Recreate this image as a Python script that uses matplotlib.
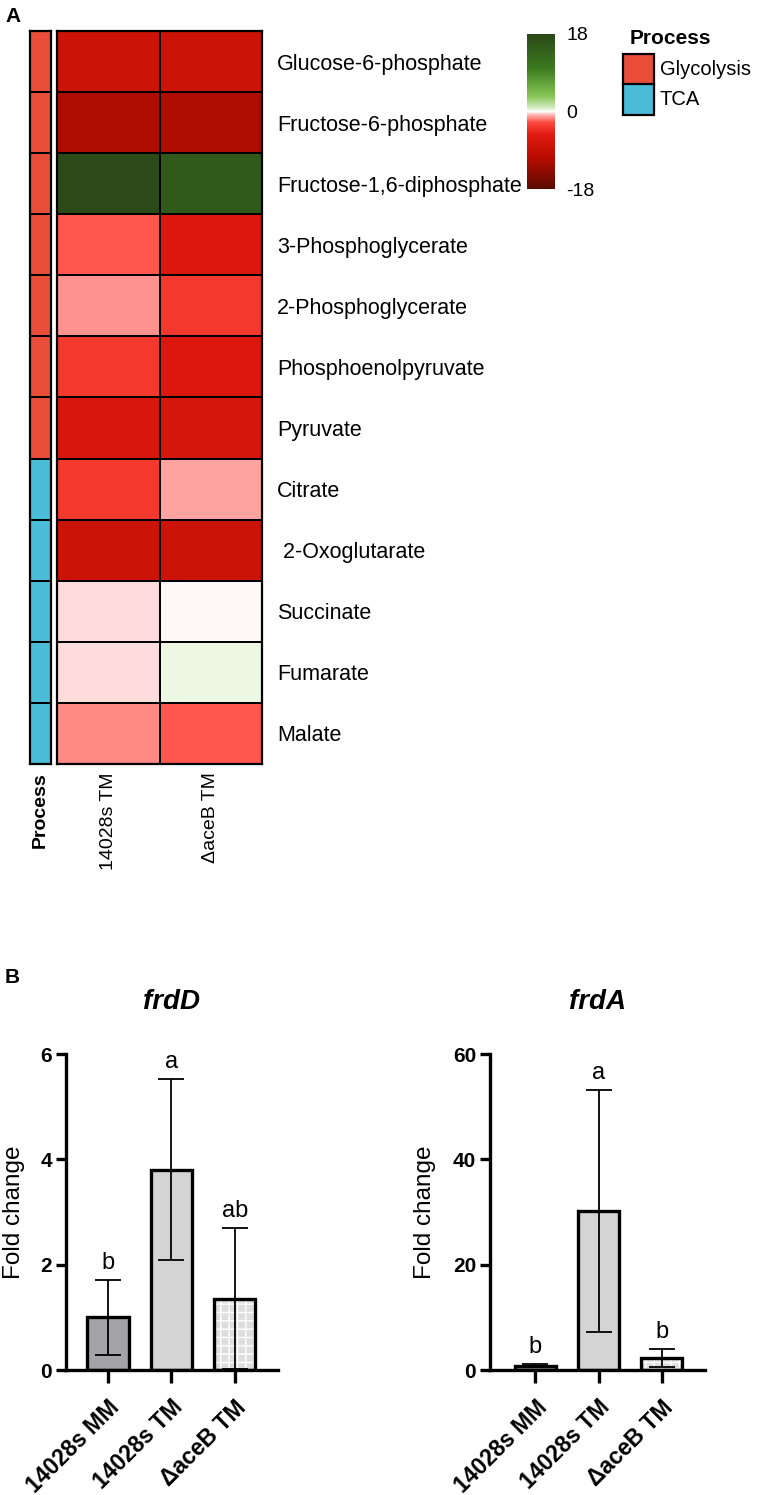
import numpy as np
import matplotlib
matplotlib.use("Agg")
import matplotlib.pyplot as plt
from matplotlib.colors import LinearSegmentedColormap, ListedColormap
from matplotlib.patches import Rectangle
from matplotlib.transforms import ScaledTranslation

plt.rcParams['font.family'] = ['Liberation Sans', 'DejaVu Sans']
plt.rcParams['axes.unicode_minus'] = False

# ---------------- data ----------------
metabolites = ["Glucose-6-phosphate", "Fructose-6-phosphate", "Fructose-1,6-diphosphate",
               "3-Phosphoglycerate", "2-Phosphoglycerate", "Phosphoenolpyruvate", "Pyruvate",
               "Citrate", " 2-Oxoglutarate", "Succinate", "Fumarate", "Malate"]
process = ["Glycolysis"] * 7 + ["TCA"] * 5
process_names = ["Glycolysis", "TCA"]
heat_conditions = ["14028s TM", "\u0394aceB TM"]
wt_tm = [-8.1, -11.4, 17.6, -2.3, -1.3, -3.6, -6.5, -3.6, -8.1, -0.33, -0.33, -1.46]
aceb_tm = [-8.1, -11.4, 15.1, -6.0, -3.6, -6.0, -6.8, -1.05, -8.1, -0.12, 0.42, -2.3]

bar_groups = ["14028s MM", "14028s TM", "\u0394aceB TM"]
frdD_mean = [1.0, 3.8, 1.35]
frdD_sd = [0.71, 1.72, 1.34]
frdD_letters = ["b", "a", "ab"]
frdA_mean = [0.8, 30.2, 2.3]
frdA_sd = [0.25, 22.9, 1.75]
frdA_letters = ["b", "a", "b"]

W, H = 780, 1495
fig = plt.figure(figsize=(W / 100, H / 100), dpi=100)


def px_axes(x0, y0, x1, y1):
    return fig.add_axes([x0 / W, 1 - y1 / H, (x1 - x0) / W, (y1 - y0) / H])


# colormap
nodes = [(0.0, "#5a0a00"), (0.2, "#b80c00"), (0.35, "#e01a10"), (0.43, "#ff4a40"),
         (0.48, "#ffb8b8"), (0.5, "#ffffff"), (0.52, "#d8efc8"), (0.6, "#86c555"),
         (0.78, "#3c7a1e"), (1.0, "#2a4818")]
cmap = LinearSegmentedColormap.from_list("rg", nodes)

proc_colors = ["#e84d39", "#4bbcd7"]

# ---------------- heatmap ----------------
data = np.column_stack([wt_tm, aceb_tm])
ax = px_axes(57, 31, 262, 764)
mesh = ax.pcolormesh(data, cmap=cmap, vmin=-18, vmax=18, edgecolors="black", linewidth=1.4)
ax.set_xlim(0, 2)
ax.set_ylim(len(metabolites), 0)
ax.yaxis.tick_right()
ax.set_yticks(np.arange(len(metabolites)) + 0.5)
ax.set_yticklabels(metabolites, fontsize=15.5)
ax.tick_params(axis="y", length=0, pad=11)
ax.set_xticks(np.arange(2) + 0.5)
ax.set_xticklabels(heat_conditions, rotation=90, fontsize=14)
ax.tick_params(axis="x", length=0, pad=6)
for s in ax.spines.values():
    s.set_linewidth(1.6)

# process column
axp = px_axes(30, 31, 51, 764)
proc_idx = np.array([process_names.index(p) for p in process]).reshape(-1, 1)
axp.pcolormesh(proc_idx, cmap=ListedColormap(proc_colors), vmin=0, vmax=1,
               edgecolors="black", linewidth=1.4)
axp.set_xlim(0, 1)
axp.set_ylim(len(process), 0)
axp.set_yticks([])
axp.set_xticks([0.5])
axp.set_xticklabels(["Process"], rotation=90, fontsize=14, fontweight="bold")
axp.tick_params(axis="x", length=0, pad=6)
for s in axp.spines.values():
    s.set_linewidth(1.6)

# colorbar
cax = px_axes(527, 34, 555, 189)
cb = fig.colorbar(mesh, cax=cax, ticks=[-18, 0, 18])
cb.outline.set_visible(False)
cb.ax.set_yticklabels(["-18", "0", "18"])
cax.tick_params(length=0, pad=8, labelsize=14)

# legend (drawn manually)
fig.text(630 / W, 1 - 38 / H, "Process", fontsize=15, fontweight="bold", va="center", ha="left")
box_w, box_h = 31, 30.5
for i, (name, col) in enumerate(zip(process_names, proc_colors)):
    y_top = 54 + i * box_h
    fig.add_artist(Rectangle((623 / W, 1 - (y_top + box_h) / H), box_w / W, box_h / H,
                             transform=fig.transFigure, facecolor=col, edgecolor="black",
                             linewidth=1.6))
    fig.text(660 / W, 1 - (y_top + box_h / 2) / H, name, fontsize=14.5, va="center", ha="left")

fig.text(5 / W, 1 - 16 / H, "A", fontsize=15, fontweight="bold", va="center", ha="left")
fig.text(5 / W, 1 - 977 / H, "B", fontsize=15, fontweight="bold", va="center", ha="left")

# ---------------- bar charts ----------------
bar_faces = ["#a4a4a8", "#d4d4d4", "#dedede"]


def bar_panel(box, xlim, means, sds, letters, ymax, yticks, title, title_x, ylabel_x):
    axb = px_axes(*box)
    x = np.arange(len(means))
    for i in range(len(means)):
        if i == 2:
            axb.bar(x[i], means[i], width=0.65, facecolor=bar_faces[i], edgecolor="white",
                    hatch="++", linewidth=0, zorder=2)
            axb.bar(x[i], means[i], width=0.65, fill=False, edgecolor="black",
                    linewidth=2.4, zorder=2.5)
        else:
            axb.bar(x[i], means[i], width=0.65, facecolor=bar_faces[i], edgecolor="black",
                    linewidth=2.4, zorder=2)
    axb.errorbar(x, means, yerr=sds, fmt="none", ecolor="black", elinewidth=1.3,
                 capsize=9.5, capthick=1.3, zorder=3)
    for i in range(len(means)):
        axb.annotate(letters[i], (x[i], means[i] + sds[i]), xytext=(0, 8),
                     textcoords="offset points", ha="center", va="baseline", fontsize=17)
    axb.set_xlim(*xlim)
    axb.set_ylim(0, ymax)
    axb.set_yticks(yticks)
    axb.set_yticklabels([str(t) for t in yticks], fontweight="bold", fontsize=15)
    axb.set_xticks(x)
    axb.set_xticklabels(bar_groups, rotation=45, ha="right", rotation_mode="anchor",
                        fontweight="bold", fontsize=16.5)
    shift = ScaledTranslation(-7 / 72, 0, fig.dpi_scale_trans)
    for lab in axb.get_xticklabels():
        lab.set_transform(lab.get_transform() + shift)
    axb.tick_params(axis="y", length=7, width=2.4, pad=3)
    axb.tick_params(axis="x", length=9.5, width=2.4, pad=9)
    axb.spines["top"].set_visible(False)
    axb.spines["right"].set_visible(False)
    axb.spines["left"].set_linewidth(2.4)
    axb.spines["bottom"].set_linewidth(2.4)
    fig.text(title_x / W, 1 - 1002 / H, title, fontsize=20, fontweight="bold",
             fontstyle="italic", ha="center", va="center")
    fig.text(ylabel_x / W, 1 - 1212 / H, "Fold change", fontsize=17.5, rotation=90,
             ha="center", va="center")
    return axb


bar_panel((66, 1054, 278, 1370), (-0.66, 2.68), frdD_mean, frdD_sd, frdD_letters,
          6, [0, 2, 4, 6], "frdD", 172, 14)
bar_panel((490, 1054, 705, 1370), (-0.72, 2.685), frdA_mean, frdA_sd, frdA_letters,
          60, [0, 20, 40, 60], "frdA", 598, 425)

fig.savefig("out.png", dpi=100)
